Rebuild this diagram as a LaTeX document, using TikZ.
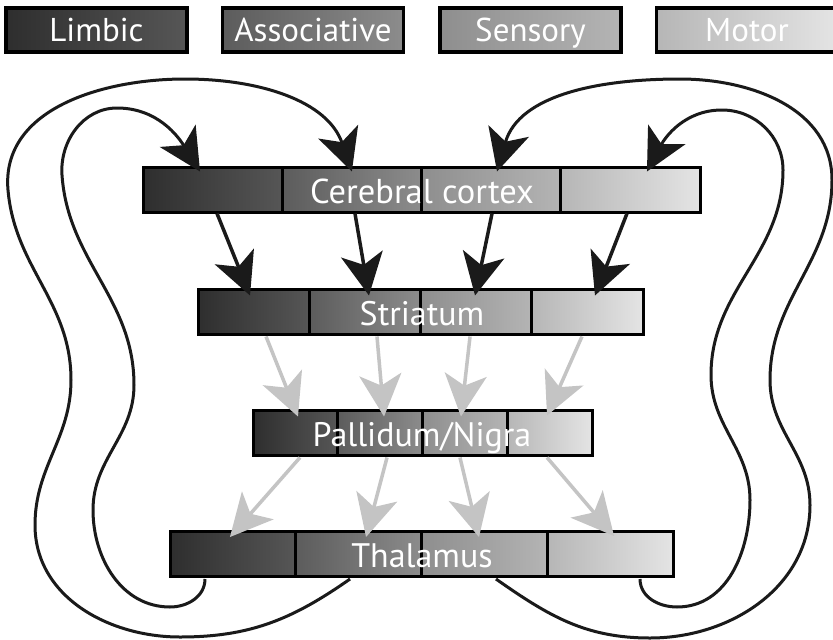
\documentclass[tikz,border=0pt]{standalone}
\usepackage{fontspec}
\newfontfamily\labfont{PT Sans}
\usetikzlibrary{arrows.meta,calc}
\definecolor{L1}{HTML}{2E2E2E}\definecolor{L2}{HTML}{565656}
\definecolor{A1}{HTML}{5C5C5C}\definecolor{A2}{HTML}{8C8C8C}
\definecolor{S1}{HTML}{8E8E8E}\definecolor{S2}{HTML}{B4B4B4}
\definecolor{M1}{HTML}{B6B6B6}\definecolor{M2}{HTML}{E4E4E4}
\definecolor{ink}{HTML}{1A1A1A}
\definecolor{ashe}{HTML}{C4C4C4}
\begin{document}
\begin{tikzpicture}[x=1pt,y=-1pt,
  seg/.style={draw=black, line width=3pt, inner sep=0pt, minimum height=45pt},
  leg/.style={draw=black, line width=3.5pt, inner sep=0pt, minimum width=181pt, minimum height=44pt,
    text=white, font=\labfont\fontsize{33}{35}\selectfont, text height=23.5pt, text depth=0pt},
  lab/.style={text=white, inner sep=0pt, anchor=base, font=\labfont\fontsize{34}{36}\selectfont},
  tip/.style={-{Stealth[length=42pt,width=42pt,inset=11pt]}},
  blk/.style={draw=ink, line width=3.5pt, tip},
  gry/.style={draw=ashe, line width=3.5pt, tip},
  fb/.style={draw=ink, line width=3pt, tip},
]
\fill[white] (0,0) rectangle (833,640);
\useasboundingbox (0,0) rectangle (833,640);

% legend
\node[leg, left color=L1, right color=L2] (lg1) at (96.5,30) {Limbic};
\node[leg, left color=A1, right color=A2] (lg2) at (313,30) {Associative};
\node[leg, left color=S1, right color=S2] (lg3) at (530.5,30) {Sensory};
\node[leg, left color=M1, right color=M2] (lg4) at (747,30) {Motor};

% bars
\foreach \i/\ca/\cb in {1/L1/L2,2/A1/A2,3/S1/S2,4/M1/M2}{
  \node[seg, minimum width=139.25pt, left color=\ca, right color=\cb] (c\i) at ({143+139.25*(\i-0.5)},189.5) {};
  \node[seg, minimum width=111.25pt, left color=\ca, right color=\cb] (s\i) at ({198+111.25*(\i-0.5)},311.5) {};
  \node[seg, minimum width=84.75pt, left color=\ca, right color=\cb] (p\i) at ({253+84.75*(\i-0.5)},432.5) {};
  \node[seg, minimum width=125.75pt, left color=\ca, right color=\cb] (t\i) at ({170+125.75*(\i-0.5)},554) {};
}

% cortex -> striatum
\draw[blk] ($(c1.south)+(4.4,0)$) -- ($(s1.north)+(-3.6,8)$);
\draw[blk] ($(c2.south)+(3.1,0)$) -- ($(s2.north)+(4.1,8)$);
\draw[blk] ($(c3.south)+(0.9,0)$) -- ($(s3.north)+(-1.1,8)$);
\draw[blk] ($(c4.south)+(-3.4,0)$) -- ($(s4.north)+(7.6,8)$);

% striatum -> pallidum
\draw[gry] ($(s1.south)+(12.4,1)$) -- ($(p1.north)+(2.6,8)$);
\draw[gry] ($(s2.south)+(12.1,1)$) -- ($(p2.north)+(3.9,8)$);
\draw[gry] ($(s3.south)+(-6.1,1)$) -- ($(p3.north)+(-3.9,8)$);
\draw[gry] ($(s4.south)+(-5.4,1)$) -- ($(p4.north)+(-2.6,7)$);

% pallidum -> thalamus
\draw[gry] ($(p1.south)+(4.6,1)$) -- ($(t1.north)+(-2.9,7)$);
\draw[gry] ($(p2.south)+(6.9,1)$) -- ($(t2.north)+(7.4,7)$);
\draw[gry] ($(p3.south)+(-4.9,1)$) -- ($(t3.north)+(-5.4,7)$);
\draw[gry] ($(p4.south)+(-2.6,1)$) -- ($(t4.north)+(3.9,6)$);

% thalamus -> cortex loops
\draw[fb] ($(t1.south)+(-27.9,1)$) to[out=270,in=0] (170,607) to[out=180,in=270] (93,510)
  to[out=90,in=270] (134,385) to[out=90,in=274] (62,175) to[out=94,in=180] (117,108)
  to[out=0,in=122] ($(c1.north)+(-12.6,6)$);
\draw[fb] ($(t2.south)+(-8.6,1)$) to[out=215,in=0] (180,637) to[out=180,in=270] (35,525)
  to[out=90,in=270] (71,380) to[out=90,in=275] (8,190) to[out=95,in=180] (185,79)
  to[out=0,in=109] ($(c2.north)+(0,6)$);
\draw[fb] ($(t3.south)+(11.6,1)$) to[out=325,in=180] (650,638) to[out=0,in=270] (810,505)
  to[out=90,in=270] (770,380) to[out=90,in=270] (832,180) to[out=90,in=0] (680,79)
  to[out=180,in=74] ($(c3.north)+(5.9,6)$);
\draw[fb] ($(t4.south)+(29.9,1)$) to[out=270,in=180] (677,607) to[out=0,in=270] (750,500)
  to[out=90,in=270] (711,375) to[out=90,in=270] (783,170) to[out=90,in=0] (722,110)
  to[out=180,in=62] ($(c4.north)+(16.6,6)$);

% labels
\node[lab, font=\labfont\fontsize{34.5}{36}\selectfont] (ctext) at (422,203) {Cerebral cortex};
\node[lab] (stext) at (422,325) {Striatum};
\node[lab] (ptext) at (422,446.5) {Pallidum/Nigra};
\node[lab] (ttext) at (422,567.5) {Thalamus};
\end{tikzpicture}
\end{document}
